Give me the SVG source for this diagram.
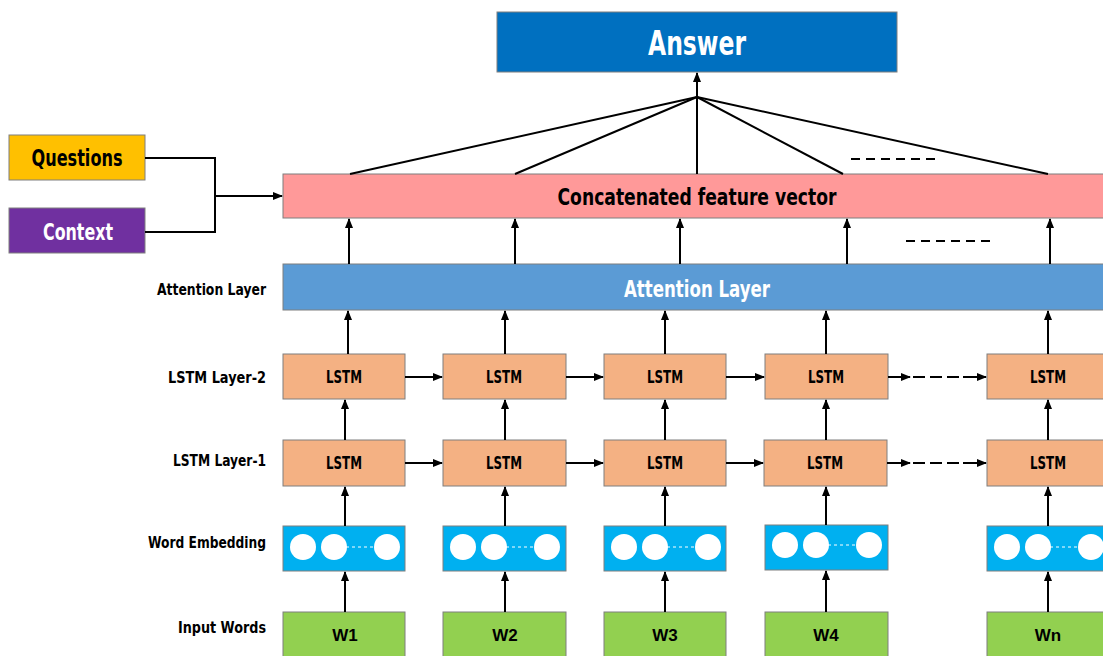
<svg xmlns="http://www.w3.org/2000/svg" width="1103" height="656" viewBox="0 0 1103 656">
  <defs>
    <marker id="arr" viewBox="0 0 10 10" refX="9" refY="5" markerWidth="5" markerHeight="5" orient="auto-start-reverse" markerUnits="strokeWidth">
      <path d="M0,1 L10,5 L0,9 Z" fill="#000"/>
    </marker>
    <style>
      .box { stroke: #7f7f7f; stroke-width: 1; }
      .cond { font-family: "Liberation Sans Narrow", "DejaVu Sans Condensed", "Liberation Sans", sans-serif; font-stretch: condensed; font-weight: bold; }
      .lbl { font-size: 16px; fill: #000; text-anchor: end; }
      .lstm { font-size: 17px; fill: #000; text-anchor: middle; }
      .word { font-family: "Liberation Sans", Arial, sans-serif; font-weight: bold; font-size: 17px; fill: #000; text-anchor: middle; }
      .ln { stroke: #000; stroke-width: 2; fill: none; }
      .arrow { stroke: #000; stroke-width: 2; fill: none; marker-end: url(#arr); }
      .dash { stroke: #000; stroke-width: 2; stroke-dasharray: 9 6; fill: none; }
      .rdash { stroke: #000; stroke-width: 2; stroke-dasharray: 12 5; fill: none; }
      .emb { fill: #00B0F0; }
      .dot { fill: #fff; }
      .edash { stroke: #fff; stroke-width: 1; stroke-dasharray: 3 3; }
    </style>
  </defs>
  <rect width="1103" height="656" fill="#fff"/>

  <!-- output -->
  <g id="answer">
    <rect class="box" x="497" y="12" width="400" height="60" fill="#0070C0"/>
    <text class="cond" x="697" y="55" font-size="34" fill="#fff" text-anchor="middle" textLength="98" lengthAdjust="spacingAndGlyphs">Answer</text>
  </g>

  <!-- side inputs -->
  <g id="questions">
    <rect class="box" x="9" y="135" width="136" height="45" fill="#FFC000"/>
    <text class="cond" x="77" y="166" font-size="23" fill="#000" text-anchor="middle" textLength="91" lengthAdjust="spacingAndGlyphs">Questions</text>
  </g>
  <g id="context">
    <rect class="box" x="9" y="208" width="136" height="45" fill="#7030A0"/>
    <text class="cond" x="78" y="240" font-size="23" fill="#fff" text-anchor="middle" textLength="70" lengthAdjust="spacingAndGlyphs">Context</text>
  </g>

  <!-- merged features -->
  <g id="concat">
    <rect class="box" x="283" y="174" width="830" height="44" fill="#FF9999"/>
    <text class="cond" x="697" y="205" font-size="23" fill="#000" text-anchor="middle" textLength="279" lengthAdjust="spacingAndGlyphs">Concatenated feature vector</text>
  </g>

  <g id="attention">
    <rect class="box" x="283" y="264" width="830" height="46" fill="#5B9BD5"/>
    <text class="cond" x="697" y="297" font-size="23" fill="#fff" text-anchor="middle" textLength="146" lengthAdjust="spacingAndGlyphs">Attention Layer</text>
  </g>

  <!-- row labels -->
  <g id="row-labels" class="cond">
    <text class="lbl" x="266" y="295" textLength="109" lengthAdjust="spacingAndGlyphs">Attention Layer</text>
    <text class="lbl" x="266" y="383" textLength="98" lengthAdjust="spacingAndGlyphs">LSTM Layer-2</text>
    <text class="lbl" x="266" y="466" textLength="93" lengthAdjust="spacingAndGlyphs">LSTM Layer-1</text>
    <text class="lbl" x="266" y="548" textLength="118" lengthAdjust="spacingAndGlyphs">Word Embedding</text>
    <text class="lbl" x="266" y="633" textLength="88" lengthAdjust="spacingAndGlyphs">Input Words</text>
  </g>

  <!-- LSTM layer 2 -->
  <g id="lstm2-1"><rect class="box" x="283" y="354" width="122" height="45" fill="#F4B183"/><text class="cond lstm" x="344" y="383" textLength="36" lengthAdjust="spacingAndGlyphs">LSTM</text></g>
  <g id="lstm2-2"><rect class="box" x="443" y="354" width="123" height="45" fill="#F4B183"/><text class="cond lstm" x="504" y="383" textLength="36" lengthAdjust="spacingAndGlyphs">LSTM</text></g>
  <g id="lstm2-3"><rect class="box" x="604" y="354" width="122" height="45" fill="#F4B183"/><text class="cond lstm" x="665" y="383" textLength="36" lengthAdjust="spacingAndGlyphs">LSTM</text></g>
  <g id="lstm2-4"><rect class="box" x="765" y="354" width="123" height="45" fill="#F4B183"/><text class="cond lstm" x="826" y="383" textLength="36" lengthAdjust="spacingAndGlyphs">LSTM</text></g>
  <g id="lstm2-n"><rect class="box" x="987" y="354" width="122" height="45" fill="#F4B183"/><text class="cond lstm" x="1048" y="383" textLength="36" lengthAdjust="spacingAndGlyphs">LSTM</text></g>

  <!-- LSTM layer 1 -->
  <g id="lstm1-1"><rect class="box" x="283" y="440" width="122" height="46" fill="#F4B183"/><text class="cond lstm" x="344" y="469" textLength="36" lengthAdjust="spacingAndGlyphs">LSTM</text></g>
  <g id="lstm1-2"><rect class="box" x="443" y="440" width="123" height="46" fill="#F4B183"/><text class="cond lstm" x="504" y="469" textLength="36" lengthAdjust="spacingAndGlyphs">LSTM</text></g>
  <g id="lstm1-3"><rect class="box" x="604" y="440" width="122" height="46" fill="#F4B183"/><text class="cond lstm" x="665" y="469" textLength="36" lengthAdjust="spacingAndGlyphs">LSTM</text></g>
  <g id="lstm1-4"><rect class="box" x="764" y="440" width="123" height="46" fill="#F4B183"/><text class="cond lstm" x="825" y="469" textLength="36" lengthAdjust="spacingAndGlyphs">LSTM</text></g>
  <g id="lstm1-n"><rect class="box" x="987" y="440" width="122" height="46" fill="#F4B183"/><text class="cond lstm" x="1048" y="469" textLength="36" lengthAdjust="spacingAndGlyphs">LSTM</text></g>

  <!-- word embeddings -->
  <g id="emb-1">
    <rect class="box emb" x="283" y="526" width="122" height="45"/>
    <line class="edash" x1="334" y1="547" x2="387" y2="547"/>
    <circle class="dot" cx="303" cy="547" r="13"/><circle class="dot" cx="334" cy="547" r="13"/><circle class="dot" cx="387" cy="547" r="13"/>
  </g>
  <g id="emb-2">
    <rect class="box emb" x="443" y="526" width="123" height="45"/>
    <line class="edash" x1="494" y1="547" x2="547" y2="547"/>
    <circle class="dot" cx="463" cy="547" r="13"/><circle class="dot" cx="494" cy="547" r="13"/><circle class="dot" cx="547" cy="547" r="13"/>
  </g>
  <g id="emb-3">
    <rect class="box emb" x="604" y="526" width="122" height="45"/>
    <line class="edash" x1="655" y1="547" x2="708" y2="547"/>
    <circle class="dot" cx="624" cy="547" r="13"/><circle class="dot" cx="655" cy="547" r="13"/><circle class="dot" cx="708" cy="547" r="13"/>
  </g>
  <g id="emb-4">
    <rect class="box emb" x="765" y="525" width="123" height="45"/>
    <line class="edash" x1="816" y1="545" x2="869" y2="545"/>
    <circle class="dot" cx="785" cy="545" r="13"/><circle class="dot" cx="816" cy="545" r="13"/><circle class="dot" cx="869" cy="545" r="13"/>
  </g>
  <g id="emb-n">
    <rect class="box emb" x="987" y="526" width="122" height="45"/>
    <line class="edash" x1="1038" y1="547" x2="1091" y2="547"/>
    <circle class="dot" cx="1007" cy="547" r="13"/><circle class="dot" cx="1038" cy="547" r="13"/><circle class="dot" cx="1091" cy="547" r="13"/>
  </g>

  <!-- input words -->
  <g id="word-1"><rect class="box" x="283" y="612" width="122" height="50" fill="#92D050"/><text class="word" x="345" y="641">W1</text></g>
  <g id="word-2"><rect class="box" x="443" y="612" width="123" height="50" fill="#92D050"/><text class="word" x="505" y="641">W2</text></g>
  <g id="word-3"><rect class="box" x="604" y="612" width="122" height="50" fill="#92D050"/><text class="word" x="665" y="641">W3</text></g>
  <g id="word-4"><rect class="box" x="765" y="612" width="123" height="50" fill="#92D050"/><text class="word" x="826" y="641">W4</text></g>
  <g id="word-n"><rect class="box" x="987" y="612" width="122" height="50" fill="#92D050"/><text class="word" x="1048" y="641">Wn</text></g>

  <!-- connectors -->
  <g id="connectors">
    <!-- questions + context merge -->
    <polyline class="ln" points="145,158 215,158 215,232 145,232"/>
    <line class="arrow" x1="215" y1="196" x2="282" y2="196"/>

    <!-- fan-in to answer -->
    <line class="ln" x1="697" y1="97" x2="350" y2="174"/>
    <line class="ln" x1="697" y1="97" x2="515" y2="174"/>
    <line class="ln" x1="697" y1="97" x2="697" y2="174"/>
    <line class="ln" x1="697" y1="97" x2="843" y2="174"/>
    <line class="ln" x1="697" y1="97" x2="1048" y2="174"/>
    <line class="arrow" x1="697" y1="98" x2="697" y2="73"/>
    <line class="dash" x1="851" y1="159" x2="937" y2="159"/>

    <!-- attention to concat -->
    <line class="arrow" x1="349" y1="264" x2="349" y2="219"/>
    <line class="arrow" x1="515" y1="264" x2="515" y2="219"/>
    <line class="arrow" x1="680" y1="264" x2="680" y2="219"/>
    <line class="arrow" x1="847" y1="264" x2="847" y2="219"/>
    <line class="arrow" x1="1050" y1="264" x2="1050" y2="219"/>
    <line class="dash" x1="906" y1="241" x2="993" y2="241"/>

    <!-- lstm2 to attention -->
    <line class="arrow" x1="348" y1="354" x2="348" y2="311"/>
    <line class="arrow" x1="505" y1="354" x2="505" y2="311"/>
    <line class="arrow" x1="665" y1="354" x2="665" y2="311"/>
    <line class="arrow" x1="826" y1="354" x2="826" y2="311"/>
    <line class="arrow" x1="1048" y1="354" x2="1048" y2="311"/>

    <!-- lstm1 to lstm2 -->
    <line class="arrow" x1="345" y1="440" x2="345" y2="400"/>
    <line class="arrow" x1="505" y1="440" x2="505" y2="400"/>
    <line class="arrow" x1="665" y1="440" x2="665" y2="400"/>
    <line class="arrow" x1="826" y1="440" x2="826" y2="400"/>
    <line class="arrow" x1="1048" y1="440" x2="1048" y2="400"/>

    <!-- embedding to lstm1 -->
    <line class="arrow" x1="345" y1="526" x2="345" y2="487"/>
    <line class="arrow" x1="505" y1="526" x2="505" y2="487"/>
    <line class="arrow" x1="665" y1="526" x2="665" y2="487"/>
    <line class="arrow" x1="826" y1="525" x2="826" y2="487"/>
    <line class="arrow" x1="1048" y1="526" x2="1048" y2="487"/>

    <!-- words to embedding -->
    <line class="arrow" x1="345" y1="612" x2="345" y2="572"/>
    <line class="arrow" x1="505" y1="612" x2="505" y2="572"/>
    <line class="arrow" x1="665" y1="612" x2="665" y2="572"/>
    <line class="arrow" x1="826" y1="612" x2="826" y2="571"/>
    <line class="arrow" x1="1048" y1="612" x2="1048" y2="572"/>

    <!-- recurrent links, layer 2 -->
    <line class="arrow" x1="405" y1="377" x2="442" y2="377"/>
    <line class="arrow" x1="566" y1="377" x2="603" y2="377"/>
    <line class="arrow" x1="726" y1="377" x2="764" y2="377"/>
    <line class="arrow" x1="888" y1="377" x2="910" y2="377"/>
    <line class="rdash" x1="913" y1="377" x2="963" y2="377"/>
    <line class="arrow" x1="963" y1="377" x2="986" y2="377"/>

    <!-- recurrent links, layer 1 -->
    <line class="arrow" x1="405" y1="463" x2="442" y2="463"/>
    <line class="arrow" x1="566" y1="463" x2="603" y2="463"/>
    <line class="arrow" x1="726" y1="463" x2="763" y2="463"/>
    <line class="arrow" x1="887" y1="463" x2="910" y2="463"/>
    <line class="rdash" x1="913" y1="463" x2="963" y2="463"/>
    <line class="arrow" x1="963" y1="463" x2="986" y2="463"/>
  </g>
</svg>
